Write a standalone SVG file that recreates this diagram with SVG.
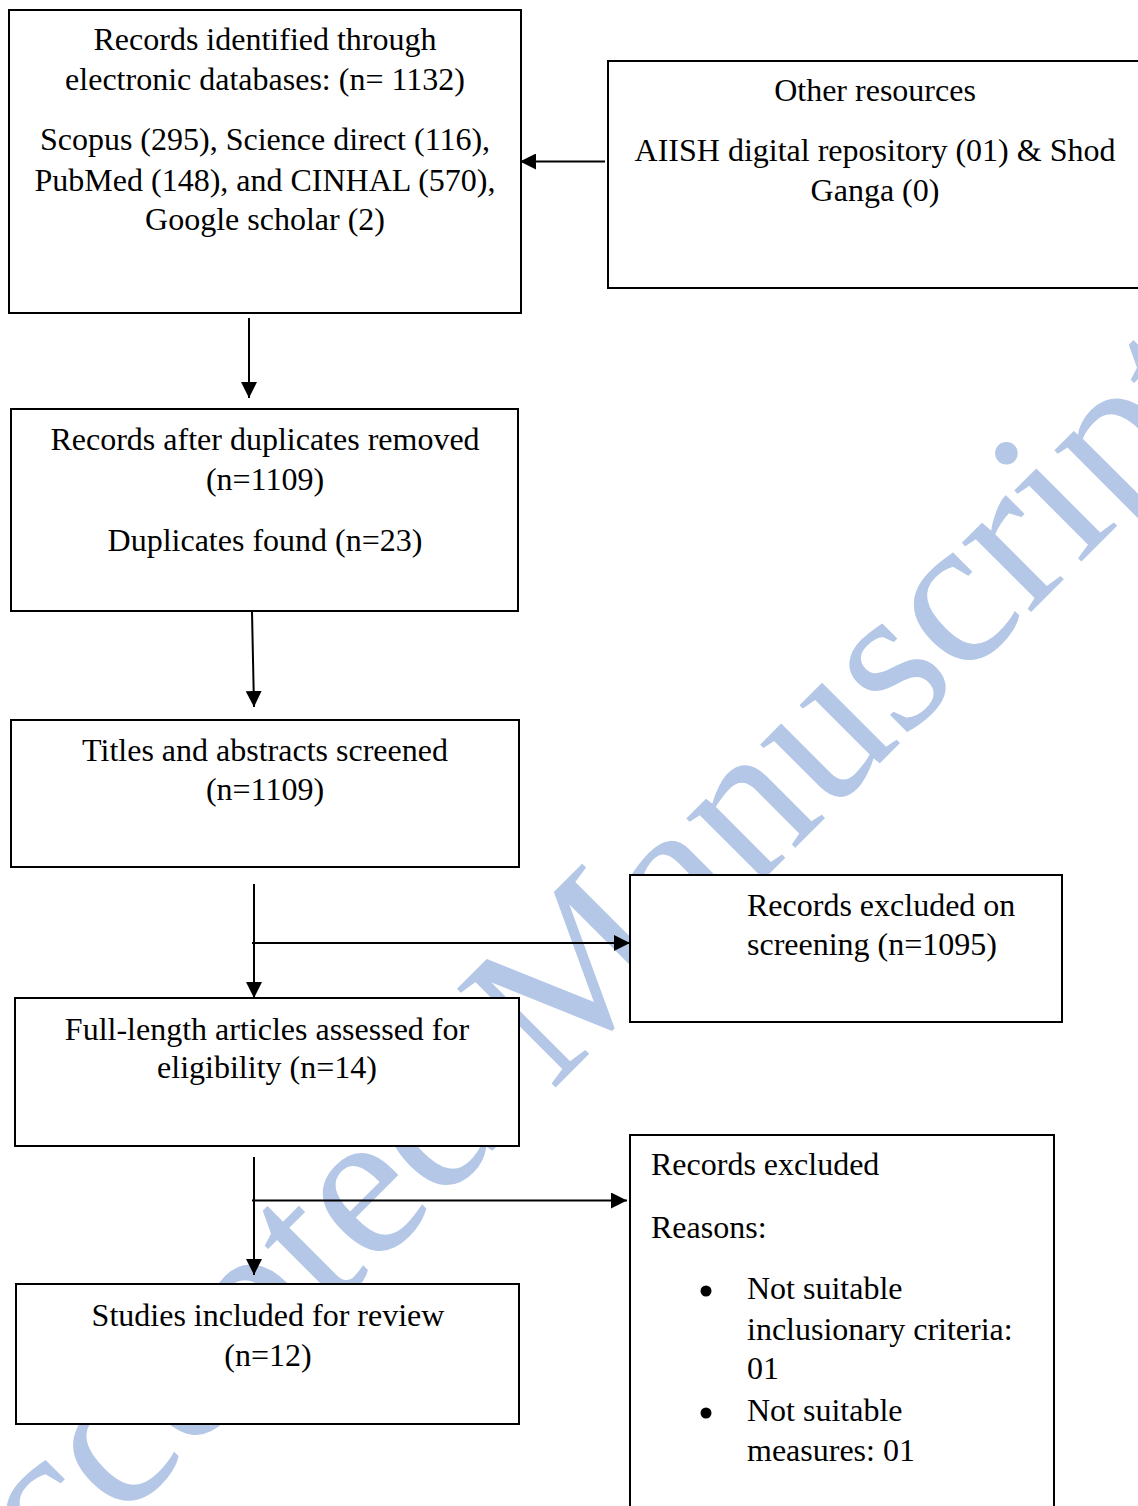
<svg xmlns="http://www.w3.org/2000/svg" width="1138" height="1506" viewBox="0 0 1138 1506">
<defs>
<style>
text{font-family:"Liberation Serif","Times New Roman",serif;font-size:32px;fill:#000}
.c{text-anchor:middle}
.box{fill:#fff;stroke:#000;stroke-width:2}
.ln{stroke:#000;stroke-width:2;fill:none}
.wm{font-size:213px;fill:#b4c7e7}
</style>
<marker id="ah" viewBox="0 0 16 16" refX="16" refY="8" markerWidth="16" markerHeight="16" markerUnits="userSpaceOnUse" orient="auto">
<path d="M0,0 L16,8 L0,16 Z" fill="#000"/>
</marker>
</defs>
<rect width="1138" height="1506" fill="#fff"/>
<g id="watermark"><text class="wm" transform="translate(-55,1698) rotate(-45)">Accepted Manuscript</text></g>

<g id="n1"><rect class="box" x="9" y="10" width="512" height="303"/>
<text class="c" x="265" y="50">Records identified through</text>
<text class="c" x="265" y="90">electronic databases: (n= 1132)</text>
<text class="c" x="265" y="150">Scopus (295), Science direct (116),</text>
<text class="c" x="265" y="191">PubMed (148), and CINHAL (570),</text>
<text class="c" x="265" y="230">Google scholar (2)</text></g>

<g id="n2"><rect class="box" x="608" y="61" width="540" height="227"/>
<text class="c" x="875" y="101">Other resources</text>
<text class="c" x="875" y="161">AIISH digital repository (01) &amp; Shod</text>
<text class="c" x="875" y="201">Ganga (0)</text></g>

<g id="n3"><rect class="box" x="11" y="409" width="507" height="202"/>
<text class="c" x="265" y="450">Records after duplicates removed</text>
<text class="c" x="265" y="490">(n=1109)</text>
<text class="c" x="265" y="551">Duplicates found (n=23)</text></g>

<g id="n4"><rect class="box" x="11" y="720" width="508" height="147"/>
<text class="c" x="265" y="761">Titles and abstracts screened</text>
<text class="c" x="265" y="800">(n=1109)</text></g>

<g id="n5"><rect class="box" x="630" y="875" width="432" height="147"/>
<text x="747" y="916">Records excluded on</text>
<text x="747" y="955">screening (n=1095)</text></g>

<g id="n6"><rect class="box" x="15" y="998" width="504" height="148"/>
<text class="c" x="267" y="1040">Full-length articles assessed for</text>
<text class="c" x="267" y="1078">eligibility (n=14)</text></g>

<g id="n7"><rect class="box" x="630" y="1135" width="424" height="380"/>
<text x="651" y="1175">Records excluded</text>
<text x="651" y="1238">Reasons:</text>
<circle cx="706" cy="1291" r="5.5" fill="#000"/>
<text x="747" y="1299">Not suitable</text>
<text x="747" y="1340">inclusionary criteria:</text>
<text x="747" y="1379">01</text>
<circle cx="706" cy="1413" r="5.5" fill="#000"/>
<text x="747" y="1421">Not suitable</text>
<text x="747" y="1461">measures: 01</text></g>

<g id="n8"><rect class="box" x="16" y="1284" width="503" height="140"/>
<text class="c" x="268" y="1326">Studies included for review</text>
<text class="c" x="268" y="1366">(n=12)</text></g>

<g id="connectors">
<line class="ln" x1="605" y1="161.5" x2="520" y2="161.5" marker-end="url(#ah)"/>
<line class="ln" x1="249" y1="318" x2="249" y2="398" marker-end="url(#ah)"/>
<line class="ln" x1="252" y1="612" x2="254" y2="707" marker-end="url(#ah)"/>
<line class="ln" x1="254" y1="884" x2="254" y2="998" marker-end="url(#ah)"/>
<line class="ln" x1="252" y1="943" x2="630" y2="943" marker-end="url(#ah)"/>
<line class="ln" x1="254" y1="1157" x2="254" y2="1275" marker-end="url(#ah)"/>
<line class="ln" x1="252" y1="1200.5" x2="627" y2="1200.5" marker-end="url(#ah)"/>
</g>
</svg>
